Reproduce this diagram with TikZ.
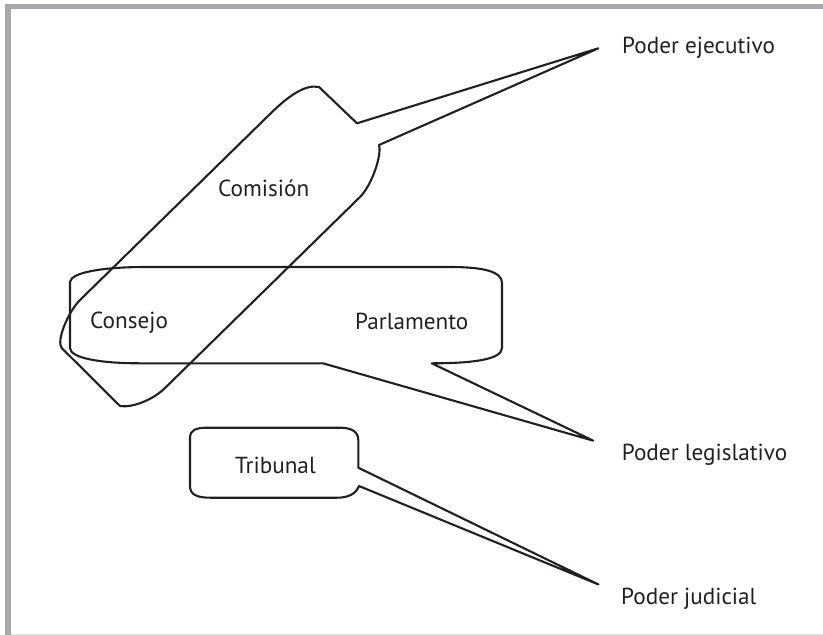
\documentclass[tikz,border=0pt]{standalone}
\usepackage{fontspec}
\setmainfont{PT Sans}
\definecolor{ink}{RGB}{35,31,32}
\definecolor{framegray}{RGB}{167,168,171}
\definecolor{rulegray}{RGB}{222,222,222}
\begin{document}
\begin{tikzpicture}[x=1pt,y=-1pt,
  outline/.style={line width=2.1pt, line join=round, draw=ink},
  lbl/.style={font=\fontsize{23.2}{28}\selectfont, inner sep=0pt, anchor=base west, text=ink}]
\useasboundingbox (0,0) rectangle (823,635);
% page frame
\fill[framegray] (5,4) rectangle (823,9);
\fill[framegray] (5,4) rectangle (11,635);
\fill[rulegray] (11,633.5) rectangle (823,635);

% tips of the callout tails
\coordinate (tipE) at (598.3,48.3);
\coordinate (tipL) at (593.3,440.7);
\coordinate (tipJ) at (598.5,584.5);

% Comision callout (tilted)
\draw[outline] (319,87) -- (357,123.3) -- (tipE) -- (379,145)
  .. controls (382,155) and (372,185) .. (360,197)
  -- (165,388)
  .. controls (153,400) and (132,408) .. (120,406)
  -- (61.7,348)
  .. controls (56,341) and (68,312) .. (80,300)
  -- (268,116)
  .. controls (288,96) and (305,84) .. (319,87) -- cycle;

% Parlamento callout
\draw[outline] (70,282) .. controls (71,272) and (105,267) .. (145,267)
  -- (450,267) .. controls (485,267) and (502,272) .. (502,283)
  -- (502,348) .. controls (502,360) and (470,363.3) .. (431.7,363.3)
  -- (tipL) -- (323,363.3) -- (140,363.3)
  .. controls (100,363.3) and (70,358) .. (70,348) -- cycle;

% Tribunal callout
\draw[outline] (190,438) .. controls (190,430) and (196,427.7) .. (207,427.7)
  -- (340,427.7) .. controls (352,427.7) and (358.3,432) .. (358.3,440)
  -- (358.3,467.7) -- (tipJ) -- (359,486)
  .. controls (356,494) and (348,497.7) .. (337,497.7)
  -- (210,497.7) .. controls (196,497.7) and (190,494) .. (190,486) -- cycle;

% labels
\node[lbl] (comision) at (218,196.7) {Comisión};
\node[lbl] (consejo) at (90,328) {Consejo};
\node[lbl] (parlamento) at (355,329) {Parlamento};
\node[lbl] (tribunal) at (235,473.3) {Tribunal};
\node[lbl] (ejecutivo) at (622,53.3) {Poder ejecutivo};
\node[lbl] (legislativo) at (621.7,460.7) {Poder legislativo};
\node[lbl] (judicial) at (621,604) {Poder judicial};
\end{tikzpicture}
\end{document}
